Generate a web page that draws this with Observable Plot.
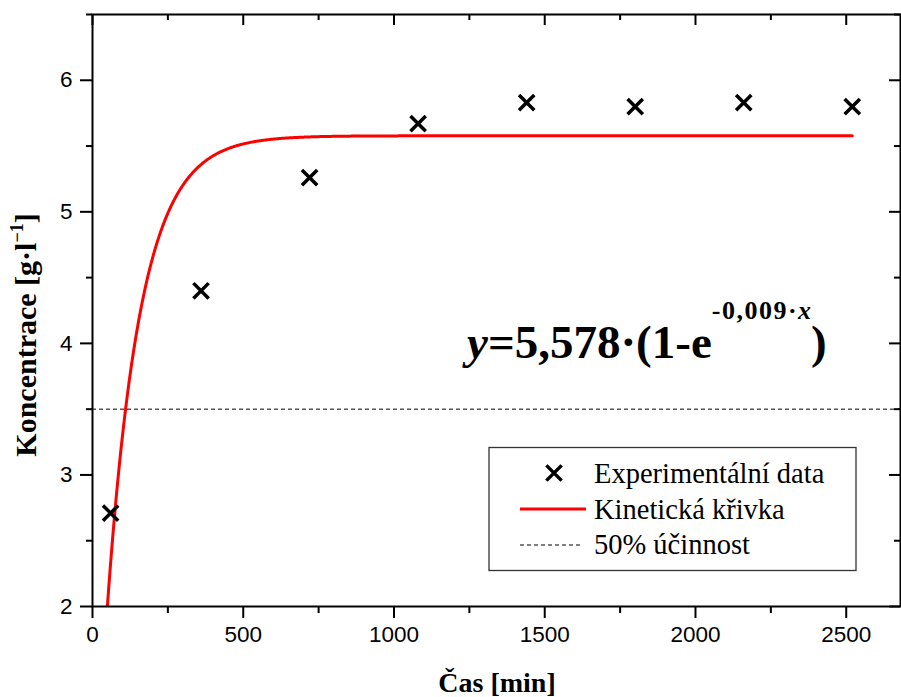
<!DOCTYPE html>
<html>
<head>
<meta charset="utf-8">
<script src="https://cdn.jsdelivr.net/npm/d3@7"></script>
<script src="https://cdn.jsdelivr.net/npm/@observablehq/plot@0.6"></script>
<style>
  html, body { margin: 0; padding: 0; background: #fff; }
  #chart { width: 901px; height: 697px; }
</style>
</head>
<body>
<div id="chart"></div>
<script>
// Experimental concentration measurements
const time = [60, 360, 720, 1080, 1440, 1800, 2160, 2520];
const concentration = [2.71, 4.40, 5.26, 5.67, 5.83, 5.80, 5.83, 5.80];

// Fitted kinetic model: y = A·(1 − e^(−k·x))
const A = 5.578;
const k = 0.009;
const fitEnd = 2520;

// 50 % efficiency level
const halfLevel = [3.5];

// Axis ticks
const xMajor = [0, 500, 1000, 1500, 2000, 2500];
const xMinor = [250, 750, 1250, 1750, 2250];
const yMajor = [2, 3, 4, 5, 6];
const yMinor = [2.5, 3.5, 4.5, 5.5, 6.5];

const points = time.map((t, i) => ({t, c: concentration[i]}));
const curve = d3.range(0, fitEnd + 1, 2).map(t => ({t, c: A * (1 - Math.exp(-k * t))}));

const W = 901, H = 697;
const mL = 92, mR = 1, mT = 14, mB = 91;
const frameH = H - mT - mB, frameW = W - mL - mR;

const serif = "'Liberation Serif', 'Times New Roman', serif";

const chart = Plot.plot({
  width: W,
  height: H,
  marginLeft: mL,
  marginRight: mR,
  marginTop: mT,
  marginBottom: mB,
  style: {fontFamily: "'Liberation Sans', Arial, sans-serif", fontSize: "22px", color: "black", background: "white"},
  x: {domain: [0, 2680]},
  y: {domain: [2, 6.5]},
  marks: [
    Plot.ruleY(halfLevel, {stroke: "black", strokeWidth: 1, strokeDasharray: "4,3"}),
    Plot.line(curve, {x: "t", y: "c", stroke: "#ff0000", strokeWidth: 3, clip: true}),
    Plot.dot(points, {x: "t", y: "c", symbol: "times", r: 7, stroke: "black", strokeWidth: 3.5}),
    // outward ticks on bottom and left
    Plot.axisX(xMajor, {tickSize: 12, tickPadding: 8, strokeWidth: 2, label: null, fontSize: 22.5, tickFormat: d => String(d)}),
    Plot.axisX(xMinor, {tickSize: 7, tickFormat: () => "", strokeWidth: 2, label: null}),
    Plot.axisY(yMajor, {tickSize: 12, tickPadding: 8, strokeWidth: 2, label: null, fontSize: 22.5, tickFormat: d => String(d)}),
    Plot.axisY(yMinor, {tickSize: 6, tickFormat: () => "", strokeWidth: 2, label: null}),
    // inward ticks on top and right
    Plot.tickX(xMajor, {x: d => d, insetBottom: frameH - 11, strokeWidth: 2}),
    Plot.tickX(xMinor, {x: d => d, insetBottom: frameH - 6, strokeWidth: 2}),
    Plot.tickY(yMajor, {y: d => d, insetLeft: frameW - 11, strokeWidth: 2}),
    Plot.tickY(yMinor, {y: d => d, insetLeft: frameW - 6, strokeWidth: 2}),
    Plot.frame({stroke: "black", strokeWidth: 2})
  ]
});

document.getElementById("chart").appendChild(chart);

const svg = d3.select(chart);

// Axis titles
svg.append("text")
  .attr("x", 497).attr("y", 692)
  .attr("text-anchor", "middle")
  .attr("font-family", serif).attr("font-weight", "bold").attr("font-size", 28)
  .attr("fill", "black")
  .text("Čas [min]");

const yTitle = svg.append("text")
  .attr("transform", "translate(36,335) rotate(-90)")
  .attr("text-anchor", "middle")
  .attr("font-family", serif).attr("font-weight", "bold").attr("font-size", 30)
  .attr("fill", "black");
yTitle.append("tspan").text("Koncentrace [g·l");
yTitle.append("tspan").attr("dy", -13).attr("font-size", 18).text("−1");
yTitle.append("tspan").attr("dy", 13).text("]");

// Model equation
const eq = svg.append("text")
  .attr("x", 467).attr("y", 358)
  .attr("text-anchor", "start")
  .attr("font-family", serif).attr("font-weight", "bold").attr("font-size", 47)
  .attr("fill", "black");
eq.append("tspan").attr("font-style", "italic").text("y");
eq.append("tspan").text("=5,578·(1-e");
eq.append("tspan").attr("dy", -39).attr("font-size", 26).attr("letter-spacing", 1.5).text("-0,009·");
eq.append("tspan").attr("font-size", 26).attr("font-style", "italic").text("x");
eq.append("tspan").attr("dy", 39).text(")");

// Legend
const lg = svg.append("g");
lg.append("rect")
  .attr("x", 489).attr("y", 447.5).attr("width", 367).attr("height", 123)
  .attr("fill", "white").attr("stroke", "#333").attr("stroke-width", 1.3);
lg.append("path")
  .attr("transform", "translate(554,473)")
  .attr("d", d3.symbol(d3.symbolTimes, Math.PI * 49)())
  .attr("fill", "none").attr("stroke", "black").attr("stroke-width", 3.5);
lg.append("line")
  .attr("x1", 520).attr("x2", 586).attr("y1", 509).attr("y2", 509)
  .attr("stroke", "#ff0000").attr("stroke-width", 3);
lg.append("line")
  .attr("x1", 520).attr("x2", 580).attr("y1", 545).attr("y2", 545)
  .attr("stroke", "black").attr("stroke-width", 1).attr("stroke-dasharray", "4,3");
const labels = ["Experimentální data", "Kinetická křivka", "50% účinnost"];
labels.forEach((s, i) => {
  lg.append("text")
    .attr("x", 594).attr("y", 483 + i * 35.5)
    .attr("text-anchor", "start")
    .attr("font-family", serif).attr("font-size", 28.5)
    .attr("fill", "black")
    .text(s);
});
</script>
</body>
</html>
